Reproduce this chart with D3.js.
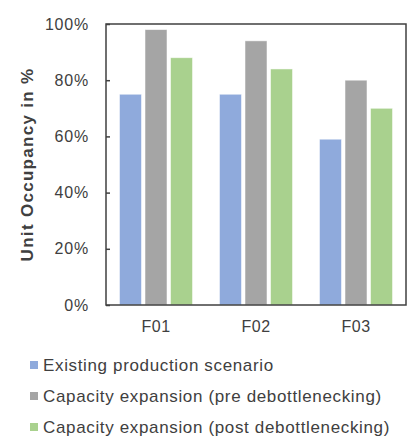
<!DOCTYPE html>
<html><head><meta charset="utf-8">
<script src="https://cdn.jsdelivr.net/npm/d3@7"></script>
<style>body{margin:0;background:#fff;}svg{display:block;font-family:"Liberation Sans",Arial,sans-serif;}</style>
</head><body>
<svg id="c" width="414" height="439"></svg>
<script>
const categories = ["F01", "F02", "F03"];
const seriesNames = [
  "Existing production scenario",
  "Capacity expansion (pre debottlenecking)",
  "Capacity expansion (post debottlenecking)"
];
const existing = [0.75, 0.75, 0.59];
const preDebottleneck = [0.98, 0.94, 0.80];
const postDebottleneck = [0.88, 0.84, 0.70];
const yTicks = [0, 0.2, 0.4, 0.6, 0.8, 1.0];
const colors = ["#8faadc", "#a5a5a5", "#a9d18e"];
const yTitle = "Unit Occupancy in %";

const series = [existing, preDebottleneck, postDebottleneck];
const svg = d3.select("#c");
const m = {left: 106, right: 406, top: 24, bottom: 305};

const x0 = d3.scaleBand().domain(categories).range([m.left, m.right]).paddingInner(0.27).paddingOuter(0.135);
const x1 = d3.scaleBand().domain(d3.range(series.length)).range([0, x0.bandwidth()]).paddingInner(0.14);
const y = d3.scaleLinear().domain([0, 1]).range([m.bottom, m.top]);

// bars
const g = svg.append("g");
categories.forEach((c, ci) => {
  series.forEach((s, si) => {
    g.append("rect")
      .attr("x", x0(c) + x1(si))
      .attr("y", y(s[ci]))
      .attr("width", x1.bandwidth())
      .attr("height", y(0) - y(s[ci]))
      .attr("fill", colors[si])
      .attr("stroke", "#ffffff").attr("stroke-opacity", 0.6).attr("stroke-width", 0.8);
  });
});

// frame
svg.append("rect").attr("x", m.left).attr("y", m.top)
  .attr("width", m.right - m.left).attr("height", m.bottom - m.top)
  .attr("fill", "none").attr("stroke", "#404040").attr("stroke-width", 1.5);

// y axis
const yAxis = d3.axisLeft(y).tickValues(yTicks).tickFormat(d3.format(".0%")).tickSizeInner(-4).tickSizeOuter(0).tickPadding(17);
const ya = svg.append("g").attr("transform", `translate(${m.left},0)`).call(yAxis);
ya.select(".domain").remove();
ya.selectAll(".tick line").attr("stroke", "#404040").attr("stroke-width", 1.5);
ya.selectAll(".tick text").attr("font-size", 16).attr("fill", "#404040").attr("font-family", "Liberation Sans, Arial, sans-serif").attr("letter-spacing", 0.8);

// x axis labels
const xAxis = d3.axisBottom(x0).tickSize(0).tickPadding(16);
const xa = svg.append("g").attr("transform", `translate(0,${m.bottom})`).call(xAxis);
xa.select(".domain").remove();
xa.selectAll(".tick text").attr("font-size", 16).attr("fill", "#404040").attr("font-family", "Liberation Sans, Arial, sans-serif").attr("letter-spacing", 0.5);

// y title
svg.append("text")
  .attr("transform", `translate(33,${(m.top + m.bottom) / 2}) rotate(-90)`)
  .attr("text-anchor", "middle")
  .attr("font-size", 17).attr("font-weight", "bold").attr("fill", "#404040")
  .attr("letter-spacing", 1.3)
  .text(yTitle);

// legend
const lg = svg.append("g");
seriesNames.forEach((n, i) => {
  const cy = 365 + i * 31;
  lg.append("rect").attr("x", 30).attr("y", cy - 4).attr("width", 8).attr("height", 8).attr("fill", colors[i]);
  lg.append("text").attr("x", 43).attr("y", cy + 6).attr("font-size", 17).attr("fill", "#404040")
    .attr("letter-spacing", 0.65).text(n);
});
</script>
</body></html>
